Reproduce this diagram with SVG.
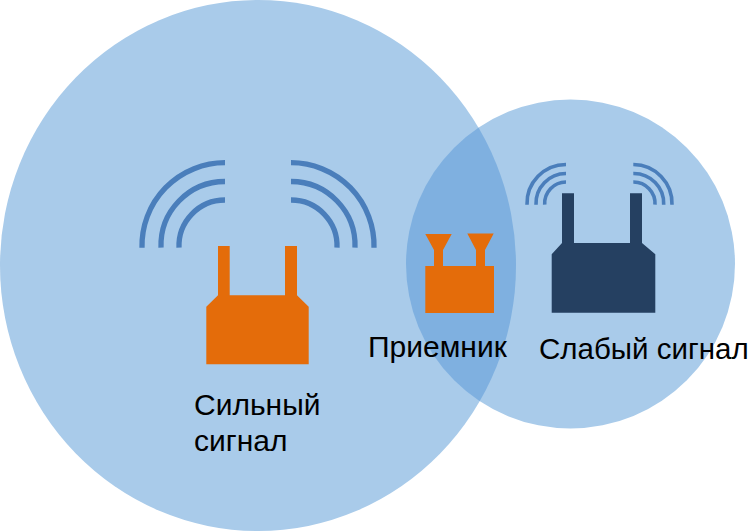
<svg xmlns="http://www.w3.org/2000/svg" width="750" height="531" viewBox="0 0 750 531">
<style>
.zone{fill:#A9CBEA}
.overlap{fill:#7FB0E0}
.arc{fill:none;stroke:#4A7EBB}
.big{stroke-width:5.3}
.small{stroke-width:3.6}
.orange{fill:#E46C0A}
.navy{fill:#254061}
text{font-family:"Liberation Sans",Arial,sans-serif;font-size:30px;fill:#000}
text.fit{font-size:29.5px}
</style>
<defs><clipPath id="bigClip"><ellipse cx="258" cy="265.5" rx="258" ry="265.5"/></clipPath></defs>
<rect width="750" height="531" fill="#fff"/>
<g id="zones">
<ellipse class="zone" cx="258" cy="265.5" rx="258" ry="265.5"/>
<circle class="zone" cx="570.5" cy="264" r="164.5"/>
<circle class="overlap" cx="570.5" cy="264" r="164.5" clip-path="url(#bigClip)"/>
</g>
<g id="strong-router">
<path class="orange" d="M218 246H229.7V295.3H285V246H297V295.3L308.7 306.7V364.3H206.3V306.7L218 295.3Z"/>
<path class="arc big" d="M225 162.7A83 83 0 0 0 142 247.7M225 181.5A64 64 0 0 0 161 247.7M225 200A46 46 0 0 0 179 247.7"/>
<path class="arc big" d="M291 162.7A83 83 0 0 1 374 247.7M291 181.5A64 64 0 0 1 355 247.7M291 200A46 46 0 0 1 337 247.7"/>
</g>
<g id="receiver">
<path class="orange" d="M425.3 266H434V250L425.3 234H451.7L443 250V266H476V250L467.3 233.5H493.7L485 250V266H494V313H425.3Z"/>
</g>
<g id="weak-router">
<path class="navy" d="M562 193.3H574V243H630V193.3H642V243L655.3 254.3V312.7H551.7V254.3L562 243Z"/>
<path class="arc small" d="M566 164.5A39 39 0 0 0 527 204.7M566 173.5A30 30 0 0 0 536 204.7M566 182A21.5 21.5 0 0 0 544.7 204.7"/>
<path class="arc small" d="M633.3 164.5A39 39 0 0 1 672 204.7M633.3 173.5A30 30 0 0 1 663.7 204.7M633.3 182A21.5 21.5 0 0 1 655 204.7"/>
</g>
<g id="labels">
<text x="368" y="357">Приемник</text>
<text class="fit" x="539" y="359">Слабый сигнал</text>
<text x="194" y="415">Сильный</text>
<text x="194" y="451">сигнал</text>
</g>
</svg>
